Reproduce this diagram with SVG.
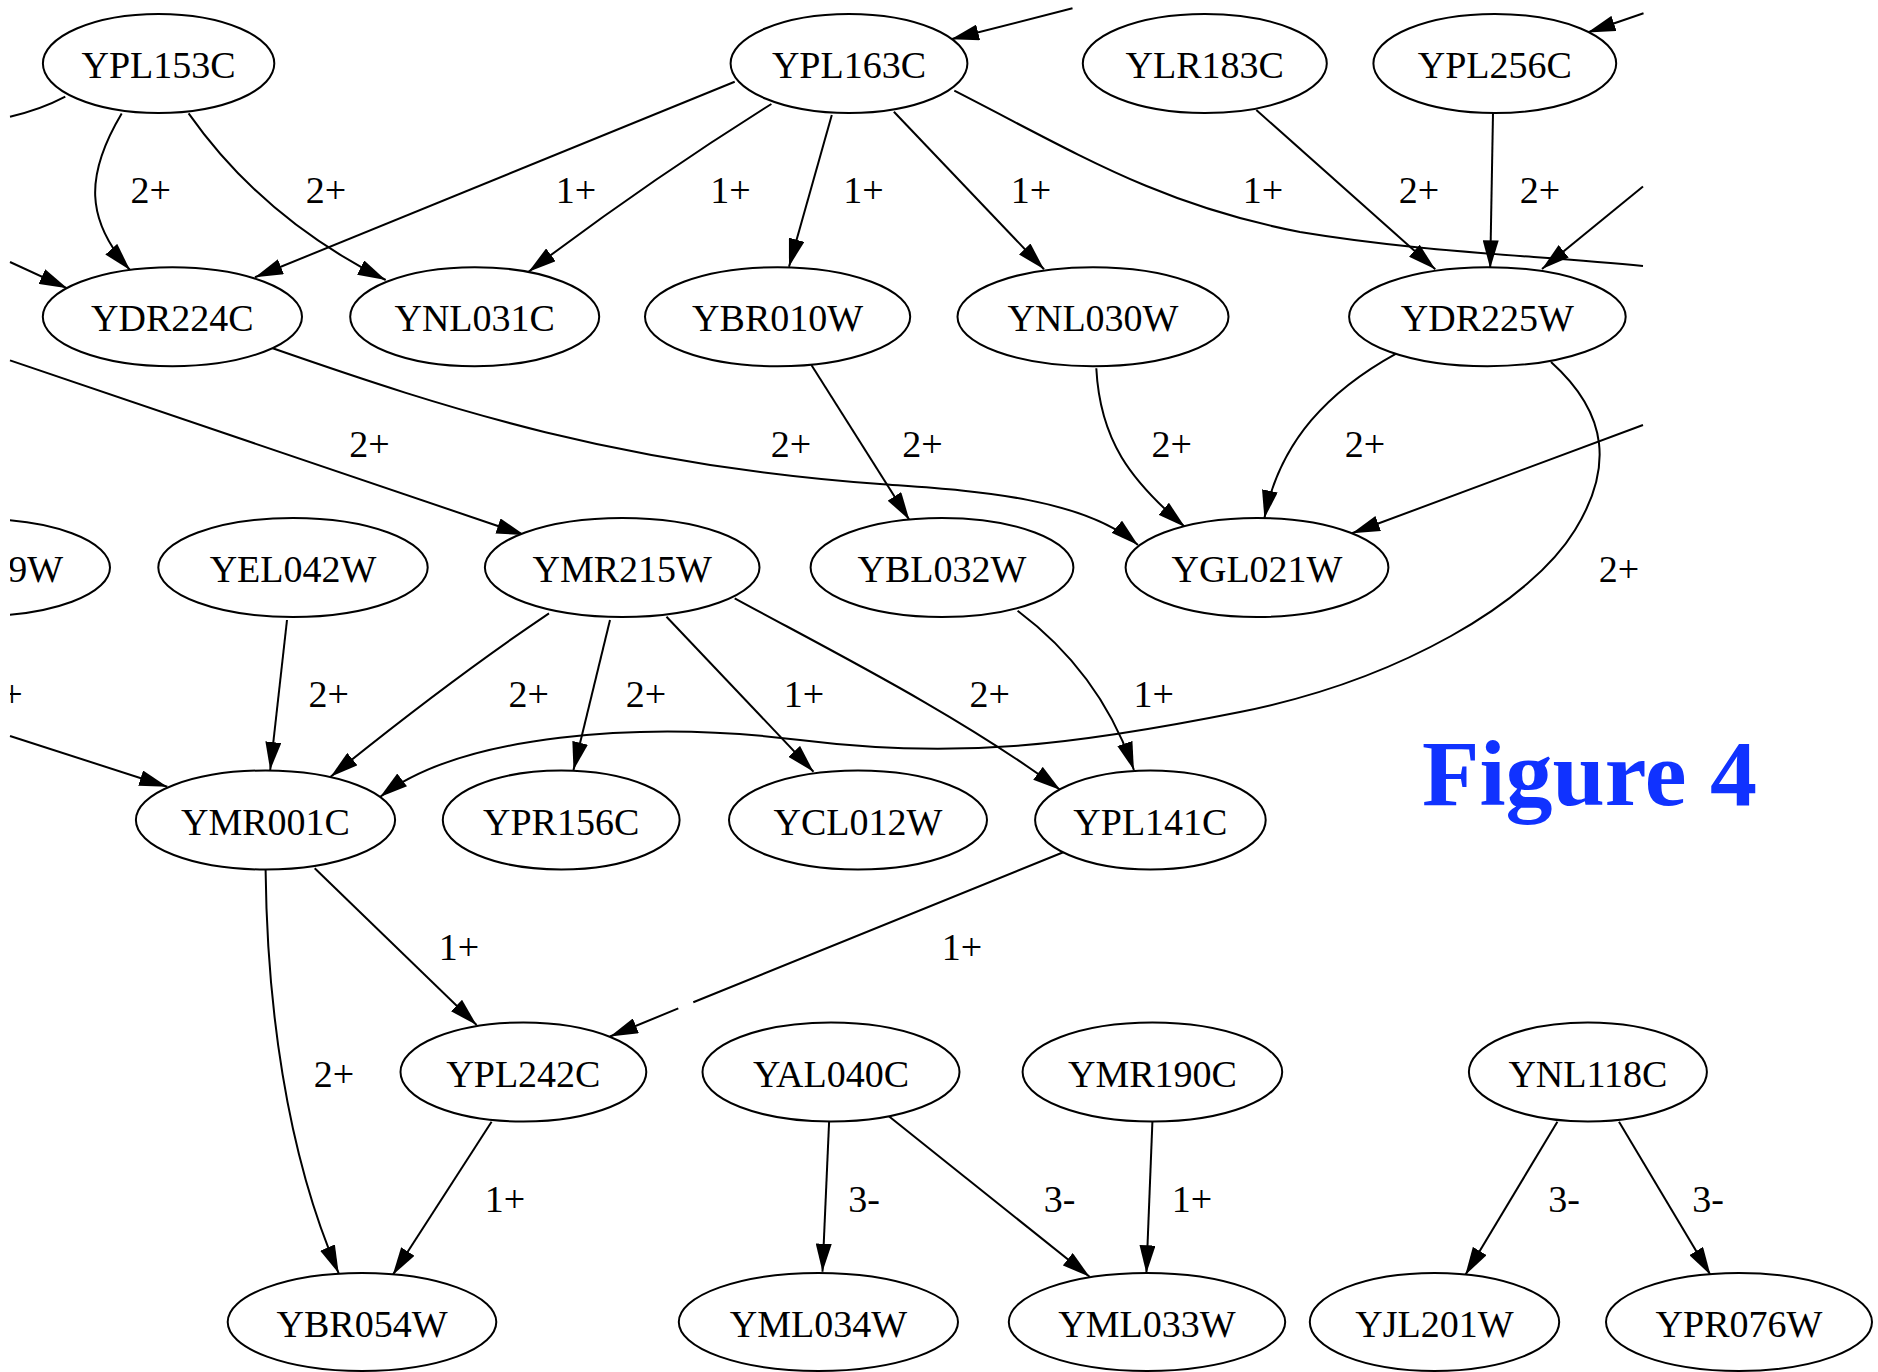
<svg xmlns="http://www.w3.org/2000/svg" width="1878" height="1372" viewBox="0 0 1878 1372">
<style>
.n ellipse{fill:#fff;stroke:#000;stroke-width:2}
.n text,.lbl{font-family:"Liberation Serif","Times New Roman",serif;font-size:38px;fill:#000;text-anchor:middle}
.e path{fill:none;stroke:#000;stroke-width:2}
.a{marker-end:url(#ah)}
.fig{font-family:"Liberation Serif","Times New Roman",serif;font-size:94px;font-weight:bold;fill:#1032ff}
</style>
<defs>
<marker id="ah" markerUnits="userSpaceOnUse" markerWidth="28" markerHeight="16" refX="28" refY="8" orient="auto">
<path d="M0,0 L28,8 L0,16 z" fill="#000"/>
</marker>
<clipPath id="lc"><rect x="10" y="0" width="1868" height="1372"/></clipPath>
</defs>
<rect width="1878" height="1372" fill="#fff"/>
<g id="connectors" class="e">
<path class="a" d="M121.7,113.5 C85,175 85,220 130,270"/>
<path class="a" d="M188.6,113.3 C225,165 285,230 385.7,280"/>
<path class="a" d="M734.7,81.7 L255,277.3"/>
<path class="a" d="M771.4,104 Q650,180 528.6,271.7"/>
<path class="a" d="M831.8,115 L789,266.7"/>
<path class="a" d="M893.9,111.7 L1044,269.3"/>
<path d="M954.3,90.7 C1080,155 1160,205 1300,232 C1420,252 1530,255 1643,266"/>
<path class="a" d="M1256.3,110 L1435.3,269.3"/>
<path class="a" d="M1493,113.3 L1490.2,268.3"/>
<path class="a" d="M1643,186.5 L1542,269"/>
<path class="a" d="M1643.5,13.3 L1587.5,32.5"/>
<path class="a" d="M1072.5,8.3 L951,39.3"/>
<path d="M65.3,96.7 Q40,110 10,116.7"/>
<path class="a" d="M10,262 L67.3,288.3"/>
<path class="a" d="M10,360.4 L524.5,535"/>
<path class="a" d="M272.7,348.3 C450,410 620,465 880,484 C960,490 1080,495 1138,545"/>
<path class="a" d="M811.4,365 L909.4,520"/>
<path class="a" d="M1096.3,368.3 C1100,440 1130,480 1185,527"/>
<path class="a" d="M1396.6,353.3 C1330,390 1280,440 1264.4,518.3"/>
<path class="a" d="M1643,425 L1352,533.3"/>
<path class="a" d="M1551,362 C1610,415 1612,470 1575,530 C1531,602 1400,680 1240,712 C1080,744 960,760 800,740 C640,720 460,735 380,797"/>
<path class="a" d="M10,736 L167.3,786.7"/>
<path class="a" d="M287,620 L270.2,770"/>
<path class="a" d="M549,613.3 Q450,680 330.6,776.7"/>
<path class="a" d="M610,620 L573.5,770"/>
<path class="a" d="M666.5,616.7 L813.5,771.7"/>
<path class="a" d="M734.7,598.3 C820,645 960,715 1060.4,790"/>
<path class="a" d="M1017.6,610.7 C1070,650 1110,700 1133.9,770"/>
<path class="a" d="M314.7,868.3 L476.6,1025"/>
<path class="a" d="M265.6,870 C267,1000 285,1150 338.7,1273.3"/>
<path class="a" d="M1064.5,851.7 L693.3,1002.3 M678.3,1008.4 L610,1036.5"/>
<path class="a" d="M491.6,1121.7 L392.7,1275"/>
<path class="a" d="M829.1,1121.7 L822.5,1271.7"/>
<path class="a" d="M887.3,1115 L1089.6,1276.7"/>
<path class="a" d="M1152.4,1121.7 L1146.4,1273.3"/>
<path class="a" d="M1557.4,1121.7 L1465.3,1275"/>
<path class="a" d="M1619,1121.7 L1710.5,1275"/>
</g>
<g id="edge-labels">
<text class="lbl" x="150.6" y="203.3">2+</text>
<text class="lbl" x="326" y="203.3">2+</text>
<text class="lbl" x="576" y="203.3">1+</text>
<text class="lbl" x="730.4" y="203.3">1+</text>
<text class="lbl" x="863.5" y="203.3">1+</text>
<text class="lbl" x="1031" y="203.3">1+</text>
<text class="lbl" x="1263" y="203.3">1+</text>
<text class="lbl" x="1419" y="203.3">2+</text>
<text class="lbl" x="1540" y="203.3">2+</text>
<text class="lbl" x="369.4" y="456.7">2+</text>
<text class="lbl" x="791" y="456.7">2+</text>
<text class="lbl" x="922.5" y="456.7">2+</text>
<text class="lbl" x="1171.6" y="456.7">2+</text>
<text class="lbl" x="1365" y="456.7">2+</text>
<text class="lbl" x="1619" y="582">2+</text>
<text class="lbl" x="2.4" y="706.7" clip-path="url(#lc)">2+</text>
<text class="lbl" x="328.6" y="706.7">2+</text>
<text class="lbl" x="528.6" y="706.7">2+</text>
<text class="lbl" x="646" y="706.7">2+</text>
<text class="lbl" x="804" y="706.7">1+</text>
<text class="lbl" x="989.6" y="706.7">2+</text>
<text class="lbl" x="1153.7" y="706.7">1+</text>
<text class="lbl" x="459" y="960">1+</text>
<text class="lbl" x="962" y="960">1+</text>
<text class="lbl" x="334" y="1086.7">2+</text>
<text class="lbl" x="505" y="1211.7">1+</text>
<text class="lbl" x="864" y="1211.7">3-</text>
<text class="lbl" x="1059.7" y="1211.7">3-</text>
<text class="lbl" x="1192" y="1211.7">1+</text>
<text class="lbl" x="1564" y="1211.7">3-</text>
<text class="lbl" x="1708" y="1211.7">3-</text>
</g>
<g id="YPL153C" class="n"><ellipse cx="158.6" cy="63.5" rx="115.7" ry="49.5"/><text x="158.6" y="78">YPL153C</text></g>
<g id="YPL163C" class="n"><ellipse cx="849" cy="63.5" rx="118.4" ry="49.5"/><text x="849" y="78">YPL163C</text></g>
<g id="YLR183C" class="n"><ellipse cx="1204.8" cy="63.5" rx="122" ry="49.5"/><text x="1204.8" y="78">YLR183C</text></g>
<g id="YPL256C" class="n"><ellipse cx="1494.8" cy="63.5" rx="121.4" ry="49.5"/><text x="1494.8" y="78">YPL256C</text></g>
<g id="YDR224C" class="n"><ellipse cx="172.4" cy="316.7" rx="129.6" ry="49.5"/><text x="172.4" y="331.2">YDR224C</text></g>
<g id="YNL031C" class="n"><ellipse cx="474.7" cy="316.7" rx="124.5" ry="49.5"/><text x="474.7" y="331.2">YNL031C</text></g>
<g id="YBR010W" class="n"><ellipse cx="777.6" cy="316.7" rx="132.6" ry="49.5"/><text x="777.6" y="331.2">YBR010W</text></g>
<g id="YNL030W" class="n"><ellipse cx="1093" cy="316.7" rx="135.5" ry="49.5"/><text x="1093" y="331.2">YNL030W</text></g>
<g id="YDR225W" class="n"><ellipse cx="1487.4" cy="316.7" rx="138.3" ry="49.5"/><text x="1487.4" y="331.2">YDR225W</text></g>
<g id="node-9W" class="n" clip-path="url(#lc)"><ellipse cx="-20" cy="567.5" rx="130" ry="48.5"/><text x="63" y="582" style="text-anchor:end">9W</text></g>
<g id="YEL042W" class="n"><ellipse cx="293" cy="567.5" rx="134.7" ry="49.5"/><text x="293" y="582">YEL042W</text></g>
<g id="YMR215W" class="n"><ellipse cx="622.2" cy="567.5" rx="137.3" ry="49.5"/><text x="622.2" y="582">YMR215W</text></g>
<g id="YBL032W" class="n"><ellipse cx="942" cy="567.5" rx="131.4" ry="49.5"/><text x="942" y="582">YBL032W</text></g>
<g id="YGL021W" class="n"><ellipse cx="1257" cy="567.5" rx="131.4" ry="49.5"/><text x="1257" y="582">YGL021W</text></g>
<g id="YMR001C" class="n"><ellipse cx="265.5" cy="820" rx="129.6" ry="49.5"/><text x="265.5" y="834.5">YMR001C</text></g>
<g id="YPR156C" class="n"><ellipse cx="561.2" cy="820" rx="118.4" ry="49.5"/><text x="561.2" y="834.5">YPR156C</text></g>
<g id="YCL012W" class="n"><ellipse cx="858" cy="820" rx="129" ry="49.5"/><text x="858" y="834.5">YCL012W</text></g>
<g id="YPL141C" class="n"><ellipse cx="1150.4" cy="820" rx="115.3" ry="49.5"/><text x="1150.4" y="834.5">YPL141C</text></g>
<g id="YPL242C" class="n"><ellipse cx="523.4" cy="1072" rx="122.9" ry="49.5"/><text x="523.4" y="1086.5">YPL242C</text></g>
<g id="YAL040C" class="n"><ellipse cx="831" cy="1072" rx="128.5" ry="49.5"/><text x="831" y="1086.5">YAL040C</text></g>
<g id="YMR190C" class="n"><ellipse cx="1152.4" cy="1072" rx="129.8" ry="49.5"/><text x="1152.4" y="1086.5">YMR190C</text></g>
<g id="YNL118C" class="n"><ellipse cx="1587.9" cy="1072" rx="119" ry="49.5"/><text x="1587.9" y="1086.5">YNL118C</text></g>
<g id="YBR054W" class="n"><ellipse cx="362" cy="1322" rx="134.3" ry="49"/><text x="362" y="1336.5">YBR054W</text></g>
<g id="YML034W" class="n"><ellipse cx="818.4" cy="1322" rx="139.6" ry="49"/><text x="818.4" y="1336.5">YML034W</text></g>
<g id="YML033W" class="n"><ellipse cx="1147" cy="1322" rx="138.2" ry="49"/><text x="1147" y="1336.5">YML033W</text></g>
<g id="YJL201W" class="n"><ellipse cx="1434.5" cy="1322" rx="124.7" ry="49"/><text x="1434.5" y="1336.5">YJL201W</text></g>
<g id="YPR076W" class="n"><ellipse cx="1739" cy="1322" rx="133" ry="49"/><text x="1739" y="1336.5">YPR076W</text></g>
<text id="title" class="fig" x="1422" y="805">Figure 4</text>
</svg>
